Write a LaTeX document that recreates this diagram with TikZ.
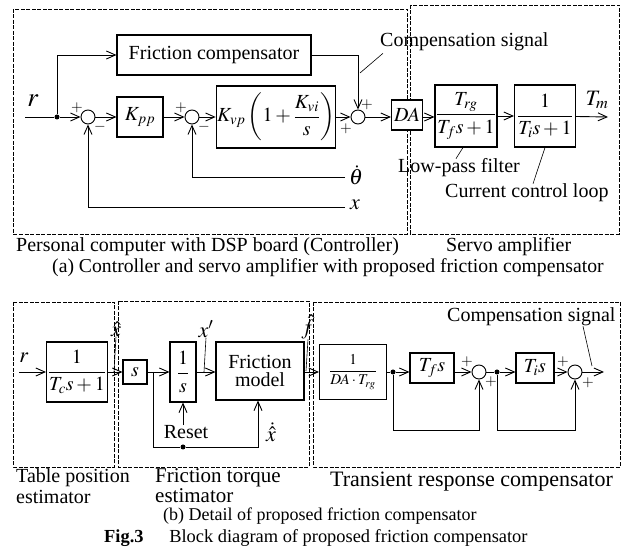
\documentclass[tikz,border=0pt]{standalone}
\usepackage{amsmath}
\usepackage{mathptmx}
\usepackage{fontspec}
\setmainfont{Liberation Serif}
\usepackage{tikz}
\usetikzlibrary{shapes,backgrounds,arrows,arrows.meta,positioning,calc}
\pgfdeclarelayer{background}
\pgfdeclarelayer{foreground}
\pgfsetlayers{background,main,foreground}
\tikzstyle{block} = [draw, line width=1.1pt, fill=white, inner sep=1pt, text centered, font=\fontsize{20}{21}\selectfont]
\tikzstyle{sumpoint} = [draw, line width=0.9pt, circle, fill=white, minimum size=14pt, inner sep=0pt]
\tikzstyle{dot} = [fill, circle, minimum size=5pt, inner sep=0pt]
\tikzstyle{arrow} = [draw, line width=0.9pt, -{Straight Barb[length=9pt,width=8pt]}]
\tikzstyle{line} = [draw, line width=0.9pt]
\tikzstyle{leader} = [draw, line width=0.6pt]
\tikzstyle{region} = [draw, line width=0.6pt, dash pattern=on 4pt off 1.5pt]
\tikzstyle{sign} = [inner sep=0pt, font=\fontsize{15}{15}\selectfont]
\tikzstyle{signal} = [inner sep=0pt, font=\fontsize{22}{22}\selectfont]
\tikzstyle{caption} = [inner sep=0pt, anchor=west, font=\fontsize{20}{21}\selectfont]
\newcommand{\blk}[3]{node (b#1) [block,#2] {#3}}
\newcommand{\summ}[1]{node (s#1) [sumpoint] {}}
\newcommand{\jdot}[1]{node (d#1) [dot] {}}
\newcommand{\sig}[2]{node (l#1) [signal] {#2}}

\begin{document}
\begin{tikzpicture}[x=1pt,y=-1pt]
\useasboundingbox (0,0) rectangle (625,553);
\path (214,55) \blk{1}{minimum width=194pt,minimum height=40pt}{Friction compensator};
\path (88,117) \summ{1};
\path (s1)+(52,0) \blk{2}{minimum width=46pt,minimum height=40pt}{$K_{pp}$};
\path (b2)+(52,0) \summ{2};
\path (s2)+(84,0) \blk{3}{minimum width=107pt,minimum height=62pt}{$K_{vp}\left(1+\dfrac{K_{vi}}{s}\right)$};
\path (b3)+(82,0) \summ{3};
\path (s3)+(49,-2) \blk{4}{minimum width=31pt,minimum height=30pt,inner sep=0pt}{$DA$};
\path (b4)+(59,1) \blk{5}{minimum width=62pt,minimum height=62pt}{$\dfrac{T_{rg}}{T_f s+1}$};
\path (b5)+(79,0) \blk{6}{minimum width=61pt,minimum height=62pt}{$\dfrac{1}{T_i s+1}$};

\coordinate (rin) at (25,117);
\path (57,117) \jdot{1};
\coordinate (tm) at (608,117);
\coordinate (thd) at (345,177);
\coordinate (xpos) at (345,207);
\path [line] (rin) -- (d1);
\path [arrow] (d1) -- (s1);
\path [arrow] (d1) |- (b1);
\path [arrow] (s1) -- (b2);
\path [arrow] (b2) -- (s2);
\path [arrow] (s2) -- (b3);
\path [arrow] (b3) -- (s3);
\path [arrow] (b1) -| (s3);
\path [arrow] (s3) -- (s3 -| b4.west);
\path [arrow] (b4.east |- s3) -- (s3 -| b5.west);
\path [arrow] (b5) -- (b6);
\path [arrow] (b6) -- (tm);
\path [arrow] (thd) -| (s2);
\path [arrow] (xpos) -| (s1);

\path (33,101) node (l1) [signal,font=\fontsize{27}{27}\selectfont] {$r$};
\path (thd)+(11,-2) \sig{2}{$\dot{\theta}$};
\path (xpos)+(10,-2) \sig{3}{$x$};
\path (tm)+(-11,-17) \sig{4}{$T_m$};

\path (s1)+(-11,-9) node (p1) [sign] {$+$};
\path (s1)+(12,10) node (m1) [sign] {$-$};
\path (s2)+(-11,-9) node (p2) [sign] {$+$};
\path (s2)+(12,10) node (m2) [sign] {$-$};
\path (s3)+(9,-12) node (p3) [sign] {$+$};
\path (s3)+(-12,12) node (p4) [sign] {$+$};

\path (380,42) node (cs1) [caption] {Compensation signal};
\coordinate (cs1end) at (360,73);
\path [leader] ([xshift=3pt,yshift=-2pt]cs1.south west) -- (cs1end);
\path (398,168) node (lpf) [caption] {Low-pass filter};
\path [leader] ([xshift=-3pt]b5.south) -- ([xshift=58pt]lpf.north west);
\path (445,193) node (ccl) [caption] {Current control loop};
\path [leader] (b6.south) -- ([xshift=88pt]ccl.north west);

\begin{pgfonlayer}{background}
\path [region] (13,9) rectangle (407,234);
\path [region] (410,5) rectangle (619,234);
\path [region] (13,302) rectangle (114,467);
\path [region] (118,301) rectangle (309,467);
\path [region] (313,302) rectangle (620,467);
\end{pgfonlayer}

\path (16,247) node (cap1) [caption] {Personal computer with DSP board (Controller)};
\path (446,247) node (cap2) [caption] {Servo amplifier};
\path (52,268) node (cap3) [caption,font=\fontsize{19.7}{21}\selectfont] {(a) Controller and servo amplifier with proposed friction compensator};

\path (77,372) \blk{7}{minimum width=61pt,minimum height=60pt}{$\dfrac{1}{T_c s+1}$};
\path (b7)+(58,0) \blk{8}{minimum width=24pt,minimum height=24pt,inner sep=0pt}{$s$};
\path (b8)+(48,0) \blk{9}{minimum width=26pt,minimum height=60pt}{$\dfrac{1}{s}$};
\path (b9)+(77,-1) \blk{10}{minimum width=88pt,minimum height=58pt,align=center}{Friction\\[-3pt]model};
\path (353,372) \blk{11}{minimum width=67pt,minimum height=55pt,font=\fontsize{15}{16}\selectfont}{$\dfrac{1}{DA\cdot T_{rg}}$};
\path (432,368) \blk{12}{minimum width=44pt,minimum height=30pt,inner sep=0pt}{$T_f s$};
\path (479,372) \summ{4};
\path (535,368) \blk{13}{minimum width=38pt,minimum height=30pt,inner sep=0pt}{$T_i s$};
\path (575,372) \summ{5};

\coordinate (rin2) at (19,372);
\coordinate (c1) at (153,372);
\path (183,447) \jdot{2};
\path (393,372) \jdot{3};
\path (497,372) \jdot{4};
\coordinate (out2) at (604,372);
\path [arrow] (rin2) -- (b7);
\path [arrow] (b7) -- (b8);
\path [arrow] (b8) -- (b9);
\path [arrow] (b9) -- (b10.west |- b9);
\path [arrow] (b10.east |- b9) -- (b11);
\path [line] (b11) -- (d3);
\path [arrow] (d3) -- (d3 -| b12.west);
\path [arrow] (d3 -| b12.east) -- (s4);
\path [line] (s4) -- (d4);
\path [arrow] (d4) -- (d4 -| b13.west);
\path [arrow] (d4 -| b13.east) -- (s5);
\path [arrow] (s5) -- (out2);
\path [arrow] (c1) |- (d2) -| ([xshift=-2pt]b10.south);
\path [arrow] (d3) -- ++(0,58) -| (s4);
\path [arrow] (d4) -- ++(0,58) -| (s5);

\path (186,432) node (rst) [caption,anchor=center] {Reset};
\path [arrow] (rst.north -| b9) -- (b9);

\path (24,358) \sig{5}{$r$};
\path (116,329) \sig{6}{$\hat{x}$};
\path [leader] (l6.south) -- ([xshift=-2pt]l6.south |- b7);
\path (206,329) \sig{7}{$x'$};
\path [leader] (l7.south) -- ([xshift=-2pt]l7.south |- b9);
\path (308,327) \sig{8}{$\hat{f}$};
\path [leader] (l8.south) -- ([xshift=-2pt]l8.south |- b10);
\path (271,432) \sig{9}{$\dot{\hat{x}}$};

\path (s4)+(-12,-10) node (p5) [sign] {$+$};
\path (s4)+(12,10) node (p6) [sign] {$+$};
\path (s5)+(-12,-10) node (p7) [sign] {$+$};
\path (s5)+(13,11) node (p8) [sign] {$+$};

\path (447,317) node (cs2) [caption] {Compensation signal};
\coordinate (cs2end) at (592,366);
\path [leader] ([xshift=136pt]cs2.south west) -- (cs2end);

\path (16,468) node (cap4) [caption,anchor=north west,align=left] {Table position\\estimator};
\path (155,468) node (cap5) [caption,anchor=north west,align=left,font=\fontsize{21}{20}\selectfont] {Friction torque\\estimator};
\path (330,482) node (cap6) [caption,font=\fontsize{22}{22}\selectfont] {Transient response compensator};
\path (163,516) node (cap7) [caption,font=\fontsize{18}{18}\selectfont] {(b) Detail of proposed friction compensator};
\path (104,538) node (cap8) [caption,font=\fontsize{18.4}{18}\selectfont] {\textbf{Fig.3}\hspace{1.4em}Block diagram of proposed friction compensator};
\end{tikzpicture}
\end{document}
